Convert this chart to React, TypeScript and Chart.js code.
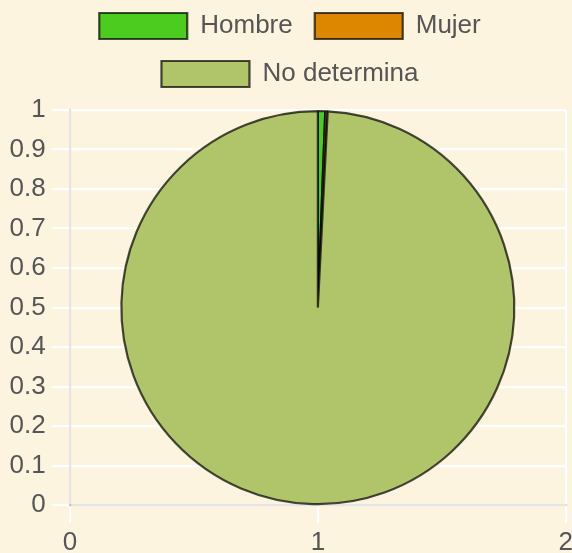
import React, { useEffect, useRef } from "react";
import { Chart, registerables } from "chart.js";

Chart.register(...registerables);

const labels = ["Hombre", "Mujer", "No determina"];
const values = [6, 2, 992];
const sliceColors = ["#4ccc1f", "#dd8700", "#b0c46a"];
const xRange = [0, 2];
const xStep = 1;
const yRange = [0, 1];
const yStep = 0.1;

const BG = "#fdf4e0";
const FONT = "Arial, 'Liberation Sans', sans-serif";
const TEXT = "#555";

const fmt = (v: any) => String(Math.round(Number(v) * 10) / 10);

export default function App() {
  const ref = useRef<HTMLCanvasElement>(null);

  useEffect(() => {
    if (!ref.current) return;
    const legendGap = {
      id: "legendGap",
      beforeLayout(chart: any) {
        const legend = chart.legend;
        if (!legend || legend._gapPatched) return;
        const fit = legend.fit;
        legend.fit = function () {
          fit.call(this);
          this.height += 13;
        };
        legend._gapPatched = true;
      },
    };

    const chart = new Chart(ref.current, {
      type: "pie",
      data: {
        labels,
        datasets: [
          {
            data: values,
            backgroundColor: sliceColors,
            borderColor: "rgba(0,0,0,0.7)",
            borderWidth: 2.2,
          },
        ],
      },
      options: {
        responsive: false,
        animation: false,
        devicePixelRatio: 1,
        layout: { padding: 0 },
        plugins: {
          legend: {
            display: true,
            position: "top",
            labels: {
              boxWidth: 88,
              boxHeight: 26,
              padding: 22,
              color: TEXT,
              font: { family: FONT, size: 26 },
            },
          },
          tooltip: { enabled: false },
        },
        scales: {
          x: {
            type: "linear",
            position: "bottom",
            min: xRange[0],
            max: xRange[1],
            ticks: {
              stepSize: xStep,
              color: TEXT,
              padding: 4,
              font: { family: FONT, size: 26 },
              callback: fmt,
            },
            grid: { color: "#ffffff", lineWidth: 2.2, tickLength: 17.6 },
            border: { color: "rgba(0,0,0,0.1)", width: 2.2 },
          },
          y: {
            type: "linear",
            position: "left",
            min: yRange[0],
            max: yRange[1],
            ticks: {
              stepSize: yStep,
              color: TEXT,
              padding: 6.6,
              font: { family: FONT, size: 26 },
              callback: fmt,
            },
            grid: { color: "#ffffff", lineWidth: 2.2, tickLength: 17.6 },
            border: { color: "rgba(0,0,0,0.1)", width: 2.2 },
          },
        },
      } as any,
      plugins: [legendGap as any],
    });
    return () => chart.destroy();
  }, []);

  return (
    <div style={{ position: "relative", width: 572, height: 553, overflow: "hidden", background: BG }}>
      <style>{`html,body{margin:0;padding:0;background:${BG};overflow:hidden;}`}</style>
      <canvas
        ref={ref}
        width={574}
        height={571}
        style={{ position: "absolute", left: 3, top: -9, width: 574, height: 571 }}
      />
    </div>
  );
}
